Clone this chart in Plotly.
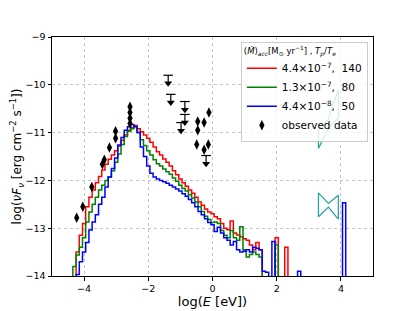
import numpy as np
import plotly.graph_objects as go

# ---------------- data ----------------
# histogram bins: centres in log(E [eV]), width 0.1 dex
log_E_bins = np.round(np.arange(-4.3, 2.75, 0.1), 1)

red_F = [None, -13.5, -13.15, -12.9, -12.55, -12.35, -12.2, -12.05, -11.92, -11.78,
         -11.66, -11.56, -11.47, -11.38, -11.28, -11.16, -11.05, -10.95, -10.9, -10.85,
         -10.92, -10.98, -11.05, -11.12, -11.2, -11.3, -11.4, -11.47, -11.55, -11.62,
         -11.7, -11.8, -11.88, -11.97, -12.05, -12.12, -12.2, -12.27, -12.35, -12.45,
         -12.52, -12.6, -12.66, -12.7, -12.76, -12.8, -12.9, -13.0, -13.03, -12.85,
         -13.1, -13.14, -13.18, -13.22, -13.25, -13.35, -13.45, -13.3, -13.45, None,
         None, None, None, -13.2, None, None, -13.4, None, None, None, None]

green_F = [-13.8, -13.56, -13.4, -13.2, -12.87, -12.66, -12.5, -12.35, -12.2, -12.1,
           -12.0, -11.93, -11.8, -11.62, -11.45, -11.25, -11.08, -10.97, -10.92, -10.88,
           -11.0, -11.15, -11.27, -11.38, -11.47, -11.57, -11.65, -11.7, -11.76, -11.82,
           -11.87, -11.95, -12.02, -12.1, -12.17, -12.22, -12.3, -12.37, -12.45, -12.55,
           -12.65, -12.75, -12.82, -12.88, -12.87, -12.9, -13.05, -13.15, -13.2, -13.05,
           -13.2, -13.25, -12.97, -13.45, -13.6, -13.55, -13.5, -13.55, -13.6, None,
           None, None, None, -13.35, None, None, None, None, None, None, None]

blue_F = [None, -13.97, -13.7, -13.5, -13.3, -13.04, -12.87, -12.72, -12.5, -12.35,
          -12.14, -11.93, -11.75, -11.53, -11.26, -11.1, -10.95, -10.88, -10.83, -10.87,
          -11.0, -11.3, -11.5, -11.7, -11.85, -11.93, -11.97, -12.0, -12.03, -12.06,
          -12.1, -12.14, -12.18, -12.22, -12.28, -12.33, -12.4, -12.47, -12.55, -12.65,
          -12.72, -12.8, -12.88, -12.93, -13.07, -12.98, -13.1, -13.2, -13.25, -13.35,
          -13.28, -13.45, -13.5, -13.48, -13.45, -13.5, -13.4, -13.42, -13.45, -13.9,
          -13.92, None, -13.28, None, None, None, None, None, None, None, -13.9]
blue_hard_E = [4.1]
blue_hard_F = [-12.47]

series_names = ["4.4×10<sup>−7</sup>,  140", "1.3×10<sup>−7</sup>,  80", "4.4×10<sup>−8</sup>,  50"]
series_colors = ["#ff0000", "#008000", "#0000ff"]

obs_E = [-4.23, -4.04, -3.76, -3.43, -3.37, -3.21, -3.02, -3.02, -2.57, -2.57, -2.57, -2.57,
         -0.46, -0.26, -0.11, -0.46, -0.49, -0.13, -0.26]
obs_F = [-12.78, -12.55, -12.14, -11.66, -11.57, -11.31, -11.12, -10.97, -10.81, -10.70, -10.58,
         -10.46, -10.77, -10.79, -10.58, -10.95, -11.25, -11.25, -11.36]

ul_E = [-1.38, -1.30, -0.86, -0.86, -0.98, -0.20]
ul_F = [-9.8, -10.2, -10.35, -10.62, -10.79, -11.48]

# X-ray bow-ties (log E, log nuFnu) polygons
bowtie_low_E = [3.30, 3.61, 3.92, 3.92, 3.61, 3.30, 3.30]
bowtie_low_F = [-12.26, -12.48, -12.31, -12.81, -12.56, -12.76, -12.26]
bowtie_high_E = [3.30, 3.63, 3.92, 3.92, 3.61, 3.30, 3.30]
bowtie_high_F = [-11.33, -10.89, -10.7, -10.1, -10.72, -10.95, -11.33]

FLOOR = -15.0
HALF = 0.05


def step_path(centres, vals):
    xs, ys = [], []
    prev = FLOOR
    for c, v in zip(centres, vals):
        v = FLOOR if v is None else v
        xs += [c - HALF, c - HALF]
        ys += [prev, v]
        prev = v
    xs += [centres[-1] + HALF, centres[-1] + HALF]
    ys += [prev, FLOOR]
    return xs, ys


fig = go.Figure()
font = "DejaVu Sans"

all_vals = [red_F, green_F, blue_F]
for name, col, vals in zip(series_names, series_colors, all_vals):
    xs, ys = step_path(list(log_E_bins), vals)
    if col == "#0000ff":
        hx, hy = step_path(blue_hard_E, blue_hard_F)
        xs += hx
        ys += hy
    fig.add_trace(go.Scatter(x=xs, y=ys, mode="lines", name=name,
                             line=dict(color=col, width=1.5)))

# bow-ties
for bx, by in [(bowtie_low_E, bowtie_low_F), (bowtie_high_E, bowtie_high_F)]:
    fig.add_trace(go.Scatter(x=bx, y=by, mode="lines", showlegend=False,
                             line=dict(color="#1fa39a", width=1.2)))

# upper limits: bar + stem + arrow head
bar_half = 0.15
stem = 0.17
lx, ly = [], []
for e, f in zip(ul_E, ul_F):
    lx += [e - bar_half, e + bar_half, None, e, e, None]
    ly += [f, f, None, f, f - stem, None]
fig.add_trace(go.Scatter(x=lx, y=ly, mode="lines", showlegend=False,
                         line=dict(color="black", width=1.2)))
fig.add_trace(go.Scatter(x=ul_E, y=[f - stem for f in ul_F], mode="markers", showlegend=False,
                         marker=dict(symbol="triangle-down", size=7, color="black")))

fig.add_trace(go.Scatter(x=obs_E, y=obs_F, mode="markers", name="observed data",
                         marker=dict(symbol="diamond-tall", size=7.5, color="black")))

axis_common = dict(showgrid=True, gridcolor="#c4c4c4", griddash="dot", gridwidth=0.8,
                   showline=True, linecolor="black", linewidth=1, mirror=True,
                   ticks="outside", ticklen=3.5, tickcolor="black", tickwidth=0.8,
                   zeroline=False, automargin=False,
                   tickfont=dict(family=font, size=9.5, color="black"))

# the page adds an 8 px body margin, so the figure is shrunk by 8 px
fig.update_layout(
    width=407, height=303,
    margin=dict(l=44, r=42, t=29, b=35),
    paper_bgcolor="white", plot_bgcolor="white",
    font=dict(family=font, color="black"),
    xaxis=dict(range=[-5, 5], tickvals=[-4, -2, 0, 2, 4],
               title=dict(text="log(<i>E</i> [eV])", font=dict(size=13), standoff=0),
               **axis_common),
    yaxis=dict(range=[-14, -9], tickvals=[-14, -13, -12, -11, -10, -9],
               title=dict(text="log(<i>νF<sub>ν</sub></i> [erg cm<sup>−2</sup> s<sup>−1</sup>])",
                          font=dict(size=12), standoff=4),
               **axis_common),
    legend=dict(x=0.984, y=0.98, xanchor="right", yanchor="top",
                bgcolor="rgba(255,255,255,0.8)", bordercolor="#cccccc", borderwidth=1,
                font=dict(family=font, size=10.5),
                title=dict(text="(<i>Ṁ</i>)<sub><i>acc</i></sub>[M<sub>⊙</sub> yr<sup>−1</sup>] , <i>T<sub>p</sub></i>/<i>T<sub>e</sub></i>",
                           font=dict(family=font, size=8.5), side="top"),
                tracegroupgap=0, itemwidth=30),
    showlegend=True,
)

fig.write_html("out.html")
